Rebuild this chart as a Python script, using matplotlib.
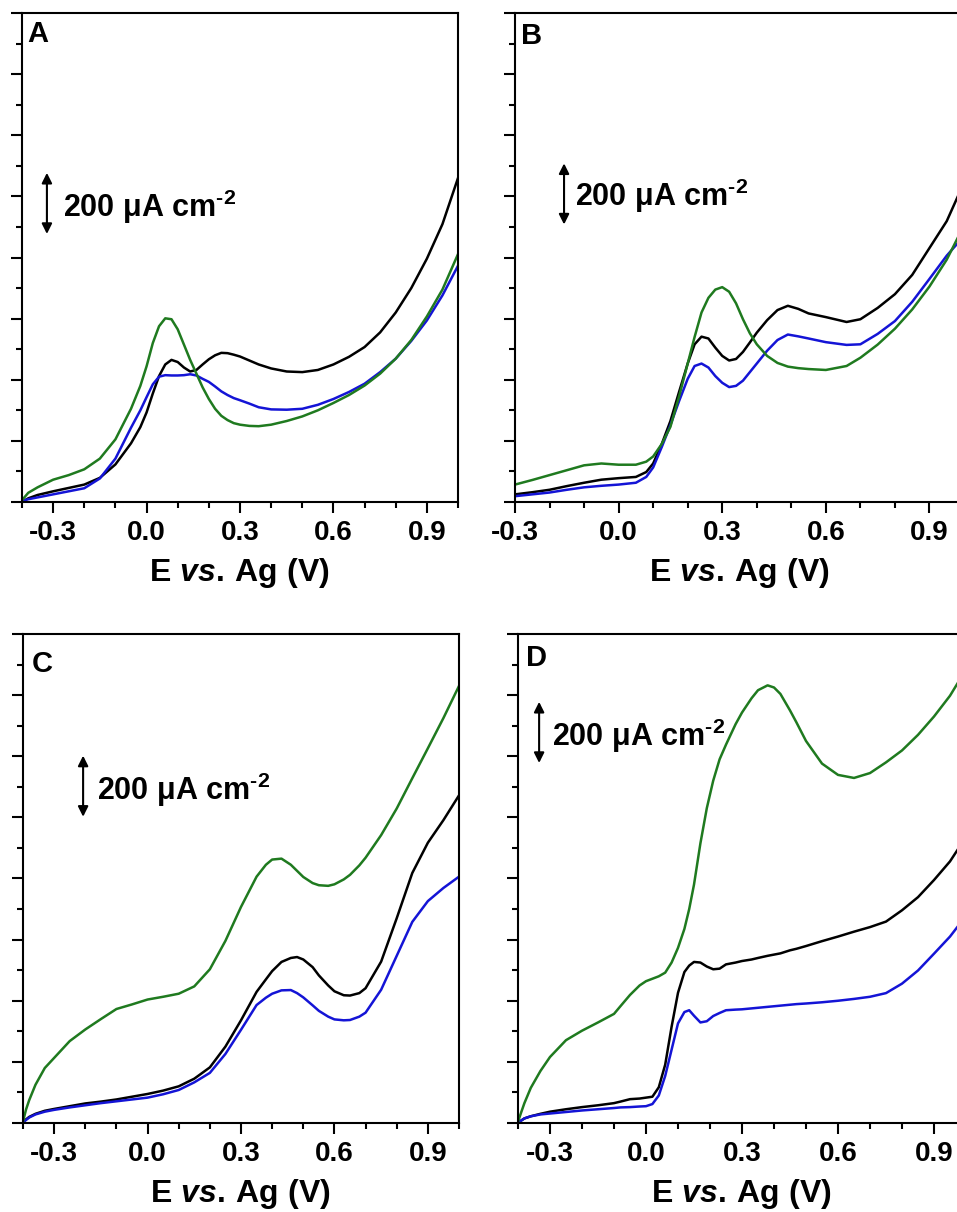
import numpy as np
import matplotlib
matplotlib.use('Agg')
import matplotlib.pyplot as plt
from matplotlib.ticker import MultipleLocator

plt.rcParams['font.family'] = ['Liberation Sans', 'DejaVu Sans']
plt.rcParams['font.weight'] = 'bold'
plt.rcParams['mathtext.fontset'] = 'custom'
plt.rcParams['mathtext.rm'] = 'Liberation Sans:bold'
plt.rcParams['mathtext.bf'] = 'Liberation Sans:bold'
plt.rcParams['mathtext.it'] = 'Liberation Sans:italic:bold'
plt.rcParams['mathtext.default'] = 'bf'

# ---- data (current density in uA cm-2 vs potential in V) ----
# panel A
xA = [-0.4, -0.38, -0.35, -0.3, -0.25, -0.2, -0.15, -0.1, -0.05, -0.02, 0.0, 0.02, 0.04,
      0.06, 0.08, 0.1, 0.12, 0.14, 0.16, 0.18, 0.2, 0.22, 0.24, 0.26, 0.28, 0.3, 0.33,
      0.36, 0.4, 0.45, 0.5, 0.55, 0.6, 0.65, 0.7, 0.75, 0.8, 0.85, 0.9, 0.95, 1.0]
A_black = [0, 12, 23, 35, 46, 57, 79, 123, 192, 245, 293, 355, 412, 450, 465, 458, 440,
           427, 432, 450, 467, 480, 488, 487, 482, 476, 463, 450, 437, 427, 425, 432, 450,
           475, 507, 555, 620, 700, 796, 909, 1060]
A_green = [6, 30, 48, 73, 88, 107, 142, 205, 305, 380, 444, 520, 575, 601, 598, 565, 515,
           465, 420, 375, 337, 305, 282, 268, 258, 253, 249, 248, 253, 265, 280, 300, 324,
           350, 381, 420, 469, 530, 607, 695, 811]
A_blue = [4, 9, 15, 25, 35, 45, 77, 142, 243, 300, 343, 385, 410, 415, 414, 414, 415,
          418, 414, 403, 393, 378, 362, 350, 340, 333, 322, 310, 303, 302, 305, 318, 337,
          360, 387, 425, 469, 527, 594, 676, 773]

# panel B
xB = [-0.3, -0.25, -0.2, -0.15, -0.1, -0.05, 0.0, 0.05, 0.08, 0.1, 0.125, 0.15, 0.175,
      0.2, 0.22, 0.24, 0.26, 0.28, 0.3, 0.32, 0.34, 0.36, 0.38, 0.4, 0.43, 0.46, 0.49,
      0.52, 0.55, 0.6, 0.66, 0.7, 0.75, 0.8, 0.85, 0.9, 0.95, 1.0]
B_black = [25, 32, 40, 52, 63, 73, 78, 82, 98, 126, 190, 265, 360, 453, 516, 541, 535,
           505, 478, 463, 468, 491, 522, 554, 595, 628, 642, 632, 617, 605, 589, 598, 635,
           680, 743, 831, 919, 1045]
B_green = [57, 72, 88, 104, 120, 126, 122, 122, 132, 149, 190, 246, 345, 453, 540, 620,
           668, 695, 703, 688, 650, 598, 552, 516, 478, 455, 443, 438, 435, 432, 445, 472,
           515, 567, 630, 705, 793, 905]
B_blue = [19, 25, 31, 40, 48, 53, 57, 63, 82, 113, 180, 252, 330, 403, 445, 453, 440,
          412, 390, 376, 380, 397, 425, 453, 495, 530, 548, 542, 535, 523, 514, 516, 550,
          592, 655, 730, 806, 870]

# panel C
xC = [-0.4, -0.39, -0.38, -0.36, -0.33, -0.3, -0.25, -0.2, -0.15, -0.1, -0.05, 0.0,
      0.05, 0.1, 0.15, 0.2, 0.25, 0.3, 0.35, 0.38, 0.4, 0.43, 0.46, 0.48, 0.5, 0.53,
      0.55, 0.58, 0.6, 0.63, 0.65, 0.68, 0.7, 0.75, 0.8, 0.85, 0.9, 0.95, 1.0]
C_green = [5, 45, 75, 125, 180, 213, 268, 306, 340, 373, 388, 404, 413, 423, 447, 503,
           596, 707, 806, 845, 862, 865, 845, 825, 805, 785, 778, 776, 781, 797, 812, 843,
           868, 942, 1029, 1128, 1226, 1325, 1430]
C_black = [2, 12, 20, 30, 40, 46, 55, 64, 70, 77, 86, 95, 106, 120, 145, 182, 250, 336,
           429, 470, 497, 527, 540, 543, 535, 510, 483, 450, 431, 418, 417, 425, 441, 528,
           670, 818, 917, 991, 1072]
C_blue = [2, 10, 18, 28, 37, 43, 51, 58, 65, 71, 77, 83, 94, 108, 133, 164, 226, 305,
          386, 410, 423, 434, 435, 425, 411, 385, 367, 348, 339, 336, 337, 348, 361, 436,
          547, 658, 726, 769, 806]

# panel D
xD = [-0.4, -0.39, -0.38, -0.36, -0.33, -0.3, -0.25, -0.2, -0.15, -0.1, -0.08, -0.05,
      -0.02, 0.0, 0.02, 0.04, 0.06, 0.08, 0.1, 0.12, 0.135, 0.15, 0.17, 0.19, 0.21, 0.23,
      0.25, 0.28, 0.3, 0.33, 0.35, 0.38, 0.4, 0.42, 0.45, 0.47, 0.5, 0.55, 0.6, 0.65,
      0.7, 0.75, 0.8, 0.85, 0.9, 0.95, 1.0]
D_green = [4, 35, 65, 115, 170, 216, 271, 302, 329, 357, 382, 419, 450, 464, 472, 480,
           492, 525, 573, 635, 700, 780, 915, 1030, 1120, 1190, 1238, 1305, 1343, 1390,
           1416, 1432, 1425, 1404, 1350, 1311, 1250, 1176, 1139, 1129, 1145, 1180, 1219,
           1270, 1330, 1398, 1484]
D_black = [2, 8, 15, 22, 30, 37, 45, 52, 58, 65, 70, 78, 80, 83, 86, 117, 191, 315, 426,
           494, 515, 527, 525, 512, 503, 505, 519, 525, 530, 535, 540, 547, 551, 555, 565,
           570, 579, 595, 610, 626, 641, 659, 696, 739, 795, 856, 936]
D_blue = [0, 8, 15, 22, 28, 31, 36, 41, 45, 49, 51, 52, 54, 55, 62, 90, 154, 240, 326,
          363, 369, 351, 329, 333, 350, 360, 369, 371, 372, 375, 377, 380, 382, 384, 387,
          389, 391, 395, 400, 406, 413, 425, 456, 499, 554, 610, 678]

panel_names = ['A', 'B', 'C', 'D']
x_min = [-0.4, -0.3, -0.4, -0.4]
# scale bar: arrow x, arrow centre y, text x, text baseline y
bar_pos = [(-0.32, 977, -0.268, 932),
           (-0.158, 1008, -0.126, 967),
           (-0.207, 1102, -0.162, 1058),
           (-0.334, 1278, -0.294, 1234)]
label_pos = [(0.011, 0.985), (0.013, 0.981), (0.021, 0.968), (0.018, 0.980)]

GREEN = '#1f7a1f'
BLUE = '#1414d6'
BLACK = '#000000'

W, H = 957, 1212
fig = plt.figure(figsize=(W / 100, H / 100), dpi=100)
# axes boxes in pixels: left, right, top, bottom
boxes = [(22, 458, 13, 502), (515, 964, 13, 502),
         (23, 459, 634, 1123), (518, 966, 634, 1123)]

curves = [(xA, A_black, A_blue, A_green), (xB, B_black, B_blue, B_green),
          (xC, C_black, C_blue, C_green), (xD, D_black, D_blue, D_green)]

for i, (l, r, t, b) in enumerate(boxes):
    ax = fig.add_axes([l / W, (H - b) / H, (r - l) / W, (b - t) / H])
    x, yk, yb, yg = curves[i]
    ax.plot(x, yk, color=BLACK, lw=1.8)
    ax.plot(x, yb, color=BLUE, lw=1.8)
    ax.plot(x, yg, color=GREEN, lw=1.8)

    ax.set_xlim(x_min[i], 1.0)
    ax.set_ylim(0, 1600)
    ax.xaxis.set_minor_locator(MultipleLocator(0.1))
    ax.yaxis.set_major_locator(MultipleLocator(200))
    ax.yaxis.set_minor_locator(MultipleLocator(100))
    ax.set_xticks([-0.3, 0.0, 0.3, 0.6, 0.9])
    ax.set_xticklabels(['-0.3', '0.0', '0.3', '0.6', '0.9'])
    ax.tick_params(which='major', direction='out', length=8, width=1.5,
                   labelsize=20, pad=5, top=False, right=False)
    ax.tick_params(which='minor', direction='out', length=4.3, width=1.5,
                   top=False, right=False)
    ax.tick_params(axis='y', labelleft=False)
    for s in ax.spines.values():
        s.set_linewidth(1.5)
    ax.set_xlabel(r'$\mathbf{E\ }\mathit{vs.}\mathbf{\,Ag\ (V)}$', fontsize=23,
                  labelpad=7)

    ax.text(label_pos[i][0], label_pos[i][1], panel_names[i], transform=ax.transAxes,
            fontsize=21, fontweight='bold', ha='left', va='top')

    axx, ayc, tx, ty = bar_pos[i]
    ax.annotate('', xy=(axx, ayc + 100), xytext=(axx, ayc - 100),
                arrowprops=dict(arrowstyle='<|-|>', color='k', lw=1.5,
                                mutation_scale=15, shrinkA=0, shrinkB=0))
    ax.text(tx, ty, '200 \u03bcA cm$^{\\text{-2}}$', fontsize=22, fontweight='bold',
            ha='left', va='baseline')

fig.savefig('out.png', dpi=100)
